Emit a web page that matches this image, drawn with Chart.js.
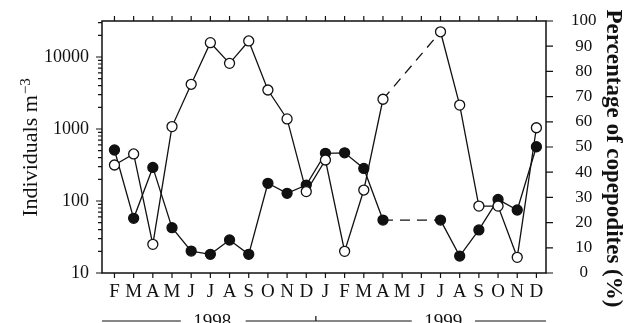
<!DOCTYPE html>
<html lang="en">
<head>
  <meta charset="UTF-8" />
  <title>Individuals and copepodites, 1998-1999</title>
  <script src="https://cdn.jsdelivr.net/npm/chart.js"></script>
  <style>
    html, body { margin: 0; padding: 0; background: #fff; }
  </style>
</head>
<body>
  <canvas id="chart" width="624" height="323"></canvas>

  <script>
    // Months, Feb 1998 to Dec 1999
    const months = ['F', 'M', 'A', 'M', 'J', 'J', 'A', 'S', 'O', 'N', 'D',
                    'J', 'F', 'M', 'A', 'M', 'J', 'J', 'A', 'S', 'O', 'N', 'D'];
    // open circles, left log axis (individuals m-3)
    const individuals = [316, 450, 25, 1080, 4180, 15800, 8170, 16700, 3480, 1380, 135,
                         371, 20, 142, 2590, null, null, 22400, 2150, 85, 85, 16.5, 1040];
    // filled circles, right axis (% copepodites)
    const copepodites = [48.8, 21.7, 41.9, 18.0, 8.7, 7.4, 13.1, 7.4, 35.6, 31.6, 34.9,
                         47.5, 47.7, 41.5, 21.0, null, null, 21.0, 6.7, 17.1, 29.2, 25.0, 50.1];

    const leftTicks = [10, 100, 1000, 10000];
    const rightTicks = [0, 10, 20, 30, 40, 50, 60, 70, 80, 90, 100];
    const years = ['1998', '1999'];

    const leftMinor = [];
    [10, 100, 1000, 10000].forEach(d => {
      for (let k = 2; k <= 9; k++) leftMinor.push(d * k);
    });

    const toPoints = arr => arr
      .map((v, i) => ({ x: i, y: v }))
      .filter(p => p.y !== null);

    // dashed where months are missing
    const gapDash = ctx => (ctx.p1.parsed.x - ctx.p0.parsed.x > 1 ? [10, 7] : undefined);

    const serif = 'Liberation Serif';

    // fixed axis sizes so the plot box sits where the original one does
    const fixSize = (w, h) => s => {
      if (w) s.width = w;
      if (h) s.height = h;
      s.paddingTop = 0; s.paddingBottom = 0;
      s.paddingLeft = 0; s.paddingRight = 0;
    };

    const frame = {
      id: 'frame',
      afterDraw(chart) {
        const { ctx, chartArea: a, scales } = chart;
        const x = scales.x, yL = scales.yL, yR = scales.yR;
        ctx.save();
        ctx.strokeStyle = '#111';
        ctx.lineWidth = 1.5;
        ctx.strokeRect(a.left, a.top, a.right - a.left, a.bottom - a.top);

        ctx.lineWidth = 1.2;
        ctx.beginPath();
        months.forEach((m, i) => {
          const px = x.getPixelForValue(i);
          ctx.moveTo(px, a.bottom); ctx.lineTo(px, a.bottom + 5);
          ctx.moveTo(px, a.top); ctx.lineTo(px, a.top - 5);
        });
        leftTicks.forEach(v => {
          const py = yL.getPixelForValue(v);
          ctx.moveTo(a.left, py); ctx.lineTo(a.left - 6, py);
        });
        leftMinor.forEach(v => {
          const py = yL.getPixelForValue(v);
          if (py < a.top) return;
          ctx.moveTo(a.left, py); ctx.lineTo(a.left - 4, py);
        });
        rightTicks.forEach(v => {
          const py = yR.getPixelForValue(v);
          ctx.moveTo(a.right, py); ctx.lineTo(a.right + 7, py);
        });
        ctx.stroke();

        // year bar under the months
        const yb = 321;
        ctx.beginPath();
        ctx.moveTo(a.left, yb); ctx.lineTo(x.getPixelForValue(3.46), yb);
        ctx.moveTo(x.getPixelForValue(6.84), yb); ctx.lineTo(x.getPixelForValue(15.5), yb);
        ctx.moveTo(x.getPixelForValue(18.8), yb); ctx.lineTo(a.right, yb);
        const split = x.getPixelForValue(10.5);
        ctx.moveTo(split, yb); ctx.lineTo(split, yb - 5);
        ctx.stroke();

        ctx.fillStyle = '#111';
        ctx.font = '19px "' + serif + '"';
        ctx.textAlign = 'center';
        ctx.textBaseline = 'alphabetic';
        ctx.fillText(years[0], x.getPixelForValue(5.1), 326.5);
        ctx.fillText(years[1], x.getPixelForValue(17.14), 326.5);

        // left title with superscript
        ctx.save();
        ctx.translate(37, 148);
        ctx.rotate(-Math.PI / 2);
        ctx.font = '22px "' + serif + '"';
        const main = 'Individuals m';
        const w1 = ctx.measureText(main).width;
        ctx.font = '15px "' + serif + '"';
        const sup = '\u22123';
        const w2 = ctx.measureText(sup).width;
        const x0 = -(w1 + w2) / 2;
        ctx.textAlign = 'left';
        ctx.font = '22px "' + serif + '"';
        ctx.fillText(main, x0, 0);
        ctx.font = '15px "' + serif + '"';
        ctx.fillText(sup, x0 + w1 + 1, -7);
        ctx.restore();

        // right title
        ctx.save();
        ctx.translate(607, 158.5);
        ctx.rotate(Math.PI / 2);
        ctx.font = 'bold 23px "' + serif + '"';
        ctx.textAlign = 'center';
        ctx.fillText('Percentage of copepodites (%)', 0, 0);
        ctx.restore();

        ctx.restore();
      }
    };

    new Chart(document.getElementById('chart'), {
      type: 'line',
      data: {
        datasets: [
          {
            label: 'Individuals m-3',
            data: toPoints(individuals),
            yAxisID: 'yL',
            borderColor: '#111',
            borderWidth: 1.3,
            pointRadius: 5,
            pointBorderWidth: 1.3,
            pointBackgroundColor: '#fff',
            pointBorderColor: '#111',
            tension: 0,
            segment: { borderDash: gapDash }
          },
          {
            label: 'Percentage of copepodites (%)',
            data: toPoints(copepodites),
            yAxisID: 'yR',
            borderColor: '#111',
            borderWidth: 1.3,
            pointRadius: 5,
            pointBorderWidth: 1.3,
            pointBackgroundColor: '#111',
            pointBorderColor: '#111',
            tension: 0,
            segment: { borderDash: gapDash }
          }
        ]
      },
      options: {
        responsive: false,
        animation: false,
        layout: { padding: { top: 21, left: 0, right: 0, bottom: 0 } },
        plugins: {
          legend: { display: false },
          tooltip: { enabled: false }
        },
        scales: {
          x: {
            type: 'linear',
            position: 'bottom',
            min: -0.65,
            max: 22.5,
            grid: { display: false },
            border: { display: false },
            afterBuildTicks: s => { s.ticks = months.map((m, i) => ({ value: i })); },
            afterFit: fixSize(0, 50),
            ticks: {
              autoSkip: false,
              maxRotation: 0,
              padding: 0,
              color: '#111',
              font: { family: serif, size: 19 },
              callback: v => months[v]
            }
          },
          yL: {
            type: 'logarithmic',
            position: 'left',
            min: 10,
            max: 31623,
            grid: { display: false },
            border: { display: false },
            afterBuildTicks: s => { s.ticks = leftTicks.map(v => ({ value: v })); },
            afterFit: fixSize(102, 0),
            ticks: {
              padding: 5,
              color: '#111',
              font: { family: serif, size: 18 },
              callback: v => String(v)
            }
          },
          yR: {
            type: 'linear',
            position: 'right',
            min: 0,
            max: 100,
            grid: { display: false },
            border: { display: false },
            afterBuildTicks: s => { s.ticks = rightTicks.map(v => ({ value: v })); },
            afterFit: fixSize(78, 0),
            ticks: {
              padding: 17,
              crossAlign: 'center',
              color: '#111',
              font: { family: serif, size: 17 },
              callback: v => String(v)
            }
          }
        }
      },
      plugins: [frame]
    });
  </script>
</body>
</html>
